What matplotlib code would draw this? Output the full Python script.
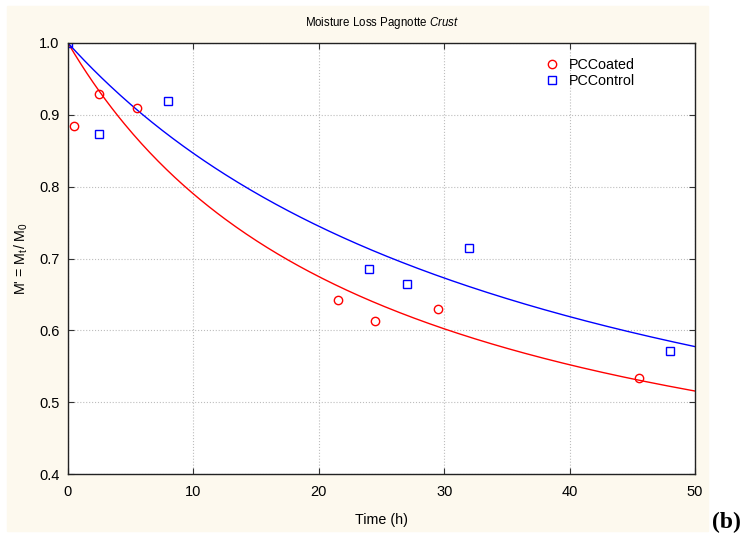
import numpy as np
import matplotlib
matplotlib.use("Agg")
import matplotlib.pyplot as plt
from matplotlib.patches import Rectangle

plt.rcParams['font.family'] = ['Liberation Sans', 'DejaVu Sans']
plt.rcParams['mathtext.fontset'] = 'custom'
plt.rcParams['mathtext.rm'] = 'Liberation Sans'
plt.rcParams['mathtext.it'] = 'Liberation Sans:italic'

# measured moisture ratio, coated crust
t_coated = [0.5, 2.5, 5.5, 21.5, 24.5, 29.5, 45.5]
m_coated = [0.884, 0.929, 0.910, 0.642, 0.613, 0.630, 0.534]

# measured moisture ratio, control crust
t_control = [0.0, 2.5, 8.0, 24.0, 27.0, 32.0, 48.0]
m_control = [1.000, 0.874, 0.919, 0.685, 0.664, 0.715, 0.571]

# Peleg fit constants  M' = 1 - t / (k1 + k2 t)
k1_coated, k2_coated = 33.7, 1.39
k1_control, k2_control = 51.8, 1.33

def peleg(t, k1, k2):
    return 1 - t / (k1 + k2 * t)

fig = plt.figure(figsize=(7.46, 5.40), dpi=100)
bg = Rectangle((7 / 746, 9 / 540), 701 / 746, 525 / 540,
               transform=fig.transFigure, color='#fdf9ee', zorder=-10)
fig.patches.append(bg)

ax = fig.add_axes([68 / 746, 66 / 540, 627 / 746, 431 / 540])
ax.set_zorder(1)
ax.set_facecolor('white')

tt = np.linspace(0, 50, 300)
ax.plot(tt, peleg(tt, k1_coated, k2_coated), color='red', lw=1.0)
ax.plot(tt, peleg(tt, k1_control, k2_control), color='blue', lw=1.0)

ax.plot(t_coated, m_coated, 'o', mfc='none', mec='red', ms=6, mew=1.0,
        label='PCCoated')
ax.plot(t_control, m_control, 's', mfc='none', mec='blue', ms=5.5, mew=1.0,
        label='PCControl')

ax.set_xlim(0, 50)
ax.set_ylim(0.4, 1.0)
ax.set_xticks([0, 10, 20, 30, 40, 50])
ax.set_yticks([0.4, 0.5, 0.6, 0.7, 0.8, 0.9, 1.0])
ax.set_yticklabels(['0.4', '0.5', '0.6', '0.7', '0.8', '0.9', '1.0'])
ax.grid(True, ls=':', color='#bdbdbd', lw=0.8)
ax.tick_params(direction='in', length=4, top=True, right=True,
               labelsize=10.5, color='#333333')
ax.tick_params(axis='y', pad=6)
ax.tick_params(axis='x', pad=8)
for s in ax.spines.values():
    s.set_linewidth(1.0)
    s.set_color('#222222')

ax.set_title(r"Moisture Loss Pagnotte $\mathit{Crust}$", fontsize=8.3, pad=12)
ax.set_xlabel("Time (h)", fontsize=10.3, labelpad=10)
ax.set_ylabel(r"M' = M$_{\mathregular{t}}$/ M$_{\mathregular{0}}$", fontsize=10.3, labelpad=7)

ax.legend(loc='upper right', bbox_to_anchor=(0.925, 0.995), frameon=False,
          fontsize=10.3, handlelength=1.0, handletextpad=0.7, labelspacing=0.15)

fig.text(726 / 746, 18 / 540, "(b)", fontsize=17, fontweight='bold',
         family='Liberation Serif', ha='center', va='center')

fig.savefig("out.png", dpi=100, facecolor='white')
